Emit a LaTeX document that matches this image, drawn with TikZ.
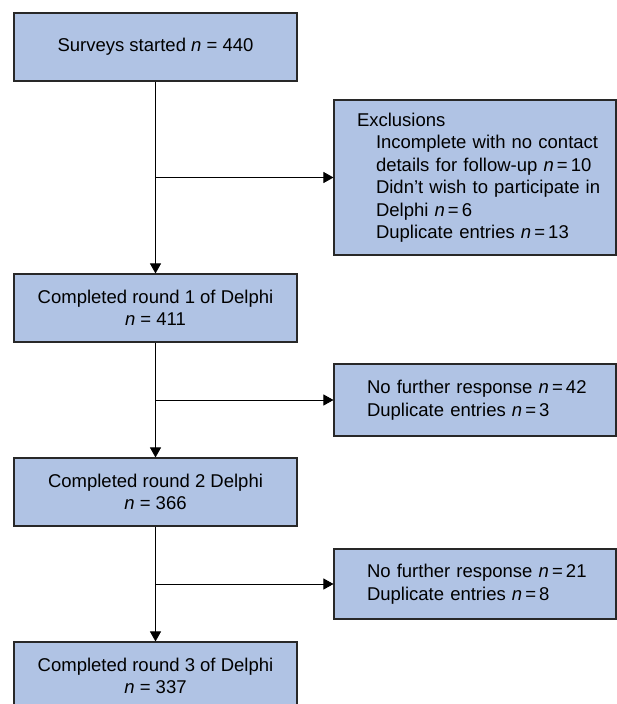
\documentclass[tikz,border=0pt]{standalone}
\usepackage{fontspec}
\setmainfont{Liberation Sans}
\usetikzlibrary{arrows.meta}
\definecolor{boxfill}{RGB}{176,195,228}
\definecolor{boxline}{RGB}{40,40,40}
\begin{document}
\begin{tikzpicture}[x=1pt,y=-1pt,
  flowbox/.style={draw=boxline, line width=1.1pt, fill=boxfill, rectangle,
    font=\fontsize{18.5}{22.5}\selectfont, inner sep=0pt},
  mainbox/.style={flowbox, minimum width=283pt, minimum height=68pt, align=center},
  sidebox/.style={flowbox, minimum width=282pt, text width=266pt, inner xsep=8pt, align=left},
  arr/.style={line width=0.9pt, -{Triangle[width=11pt,length=10pt]}}]
\useasboundingbox (0,0) rectangle (617,704);
\clip (0,0) rectangle (617,704);
\fill[white] (0,0) rectangle (617,704);

\node[mainbox] (b1) at (155.5,47) {Surveys started \textit{n} = 440};
\node[sidebox, minimum height=155pt] (ex) at (475,177.5) {\hspace*{15pt}Exclusions\\
\hspace*{34pt}Incomplete with no contact\\
\hspace*{34pt}details for follow-up \textit{n}\,=\,10\\
\hspace*{34pt}Didn’t wish to participate in\\
\hspace*{34pt}Delphi \textit{n}\,=\,6\\
\hspace*{34pt}Duplicate entries \textit{n}\,=\,13};
\node[mainbox] (b2) at (155.5,308) {Completed round 1 of Delphi\\\textit{n} = 411};
\node[sidebox, minimum height=72pt] (r2) at (475,400) {\hspace*{25pt}No further response \textit{n}\,=\,42\\
\hspace*{25pt}Duplicate entries \textit{n}\,=\,3};
\node[mainbox] (b3) at (155.5,492) {Completed round 2 Delphi\\\textit{n} = 366};
\node[sidebox, minimum height=70pt] (r3) at (475,584) {\hspace*{25pt}No further response \textit{n}\,=\,21\\
\hspace*{25pt}Duplicate entries \textit{n}\,=\,8};
\node[mainbox] (b4) at (155.5,676) {Completed round 3 of Delphi\\\textit{n} = 337};

\draw[arr] (b1.south) -- (b2.north);
\draw[arr] (b1.south |- ex.west) -- (ex.west);
\draw[arr] (b2.south) -- (b3.north);
\draw[arr] (b2.south |- r2.west) -- (r2.west);
\draw[arr] (b3.south) -- (b4.north);
\draw[arr] (b3.south |- r3.west) -- (r3.west);
\end{tikzpicture}
\end{document}
